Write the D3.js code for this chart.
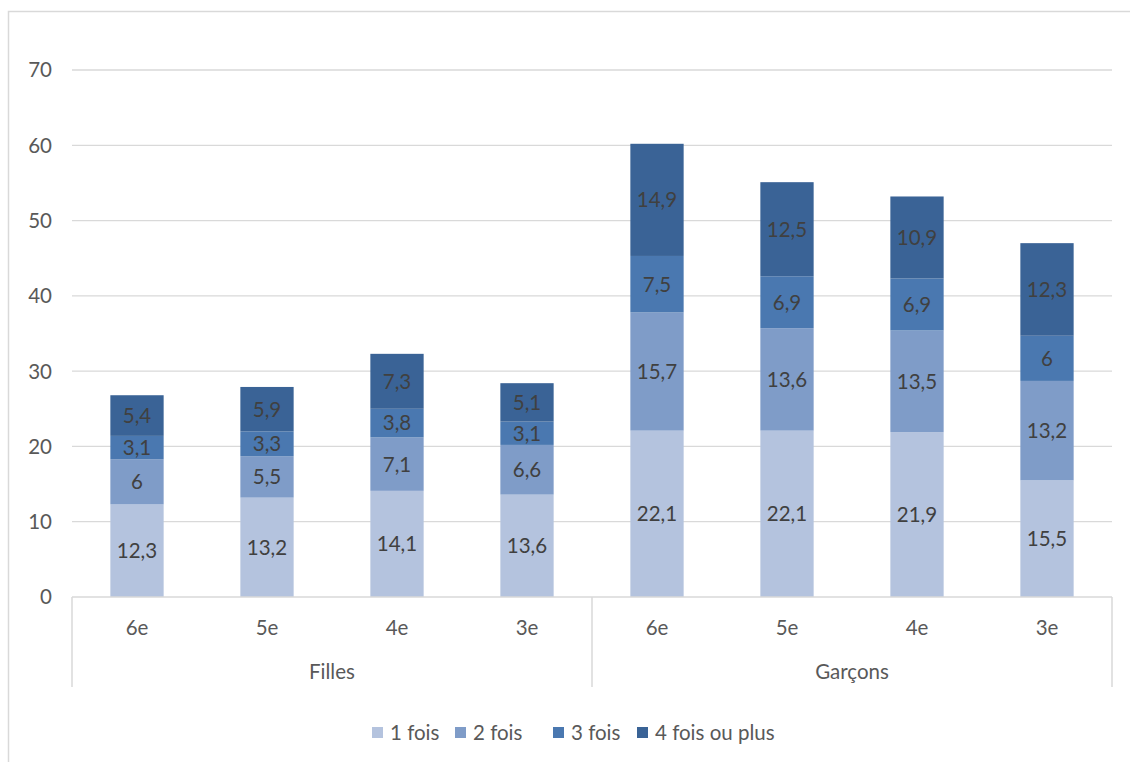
<!DOCTYPE html>
<html><head><meta charset="utf-8">
<script src="https://cdn.jsdelivr.net/npm/d3@7"></script>
<style>body{margin:0;background:#fff}svg{display:block}text{font-family:Lato,"Liberation Sans",Arial,sans-serif}</style>
</head><body>
<svg id="c" width="1130" height="762"></svg>
<script>
const groups = ["Filles","Garçons"];
const levels = ["6e","5e","4e","3e"];
const series = ["1 fois","2 fois","3 fois","4 fois ou plus"];
const fois1 = [12.3,13.2,14.1,13.6,22.1,22.1,21.9,15.5];
const fois2 = [6,5.5,7.1,6.6,15.7,13.6,13.5,13.2];
const fois3 = [3.1,3.3,3.8,3.1,7.5,6.9,6.9,6];
const fois4 = [5.4,5.9,7.3,5.1,14.9,12.5,10.9,12.3];
const yTicks = [0,10,20,30,40,50,60,70];
const colors = ["#b4c3de","#7f9cc8","#4a78b0","#3a6396"];

(function(){
const FS = 20.5;
const svg = d3.select("#c");
svg.append("rect").attr("x",8.5).attr("y",11.5).attr("width",1140).attr("height",780)
  .attr("fill","none").attr("stroke","#d9d9d9").attr("stroke-width",1.5);

const pL=72,pR=1112,pT=70,pB=597;
const y = d3.scaleLinear().domain([0,70]).range([pB,pT]);
const cats = [];
groups.forEach(g=>levels.forEach(l=>cats.push(g+"|"+l)));
const x = d3.scaleBand().domain(cats).range([pL,pR]).paddingInner(0.59).paddingOuter(0.295);

svg.append("g").selectAll("line").data(yTicks.filter(t=>t>0)).join("line")
  .attr("x1",pL).attr("x2",pR).attr("y1",d=>y(d)).attr("y2",d=>y(d))
  .attr("stroke","#d9d9d9").attr("stroke-width",1.3);
svg.append("g").selectAll("text").data(yTicks).join("text")
  .attr("x",52).attr("y",d=>y(d)).attr("dy","0.36em").attr("text-anchor","end")
  .attr("font-size",FS).attr("fill","#595959").text(d=>d);

const data = cats.map((c,i)=>({cat:c,vals:[fois1[i],fois2[i],fois3[i],fois4[i]]}));
const stack = d3.stack().keys([0,1,2,3]).value((d,k)=>d.vals[k]);
const st = stack(data);
const fmt = v=>String(v).replace(".",",");
st.forEach((layer,k)=>{
  const g = svg.append("g");
  g.selectAll("rect").data(layer).join("rect")
    .attr("x",d=>x(d.data.cat)).attr("width",x.bandwidth())
    .attr("y",d=>y(d[1])).attr("height",d=>y(d[0])-y(d[1]))
    .attr("fill",colors[k]);
  g.selectAll("text").data(layer).join("text")
    .attr("x",d=>x(d.data.cat)+x.bandwidth()/2)
    .attr("y",d=>(y(d[0])+y(d[1]))/2).attr("dy","0.36em")
    .attr("text-anchor","middle").attr("font-size",FS).attr("fill","#404040")
    .text(d=>fmt(d.data.vals[k]));
});

const ax = svg.append("g").attr("stroke","#d9d9d9").attr("stroke-width",1.5);
ax.append("line").attr("x1",pL).attr("x2",pR).attr("y1",pB).attr("y2",pB);
[pL,(pL+pR)/2,pR].forEach(xx=>{
  ax.append("line").attr("x1",xx).attr("x2",xx).attr("y1",pB).attr("y2",687);
});
svg.append("g").selectAll("text").data(cats).join("text")
  .attr("x",d=>x(d)+x.bandwidth()/2).attr("y",635).attr("text-anchor","middle")
  .attr("font-size",FS).attr("fill","#595959").text(d=>d.split("|")[1]);
const gw=(pR-pL)/2;
svg.append("g").selectAll("text").data(groups).join("text")
  .attr("x",(d,i)=>pL+gw*i+gw/2).attr("y",679).attr("text-anchor","middle")
  .attr("font-size",FS).attr("fill","#595959").text(d=>d);

const lg = svg.append("g");
const lx=[372,455,553,637];
series.forEach((s,i)=>{
  lg.append("rect").attr("x",lx[i]).attr("y",727).attr("width",11).attr("height",11).attr("fill",colors[i]);
  lg.append("text").attr("x",lx[i]+18).attr("y",740).attr("font-size",FS).attr("fill","#595959").text(s);
});
})();
</script>
</body></html>
